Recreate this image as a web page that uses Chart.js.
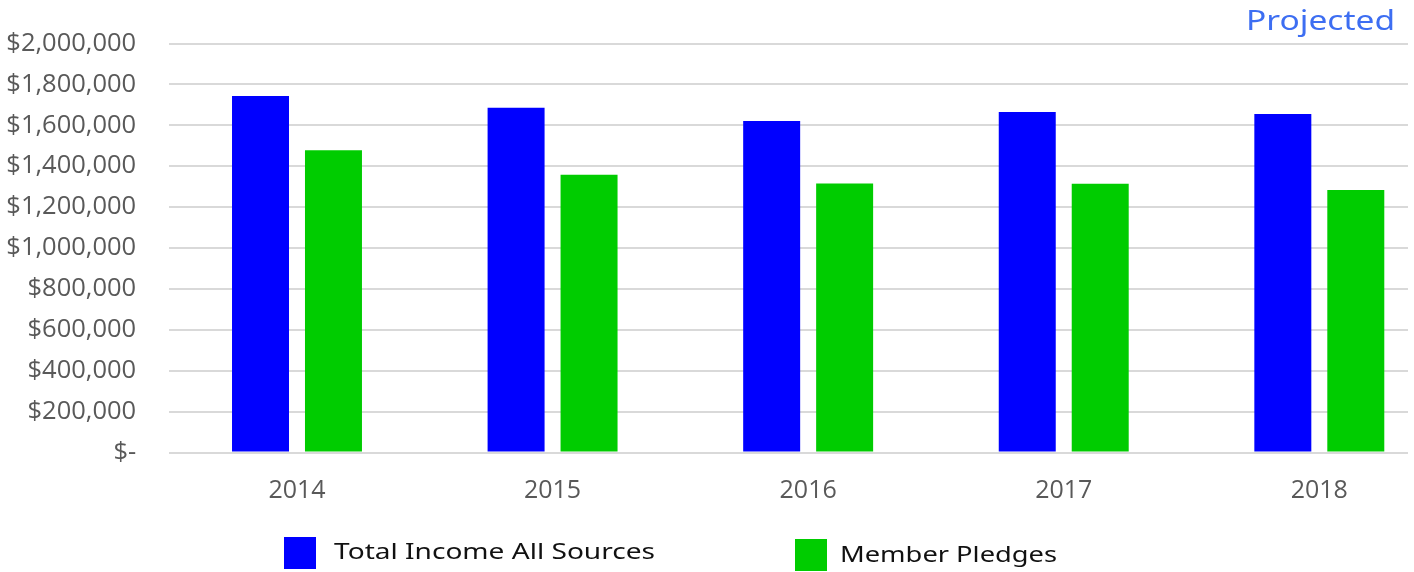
<!DOCTYPE html>
<html>
<head>
<meta charset="utf-8">
<script src="https://cdn.jsdelivr.net/npm/chart.js@4/dist/chart.umd.min.js"></script>
<style>
  html, body { margin: 0; padding: 0; background: #ffffff; overflow: hidden; }
  #wrap { position: relative; width: 1414px; height: 572px; }
</style>
</head>
<body>
<div id="wrap"><canvas id="c" width="1414" height="572"></canvas></div>
<script>
// ---- data ----
const years = ['2014', '2015', '2016', '2017', '2018'];
const totalIncome = [1743000, 1686000, 1621000, 1665000, 1655000];
const memberPledges = [1478000, 1358000, 1316000, 1314000, 1284000];
const seriesNames = ['Total Income All Sources', 'Member Pledges'];
const seriesColors = ['#0000ff', '#00cc00'];
const yTicks = [0, 200000, 400000, 600000, 800000, 1000000, 1200000, 1400000, 1600000, 1800000, 2000000];
const noteText = 'Projected';

const toPoints = arr => arr.map((v, i) => ({ x: i, y: v }));

// draw text stretched horizontally to a target ink width
function fitText(ctx, text, x, y, target, align) {
  const w = ctx.measureText(text).width;
  const sx = target / w;
  ctx.save();
  ctx.textAlign = 'left';
  const left = align === 'right' ? x - target : x;
  ctx.translate(left, y);
  ctx.scale(sx, 1);
  ctx.fillText(text, 0, 0);
  ctx.restore();
}

const extras = {
  id: 'extras',
  afterDraw(chart) {
    const ctx = chart.ctx;
    ctx.save();
    const items = [
      { box: [284, 537], text: [334, 558.5], width: 321 },
      { box: [795, 539], text: [840, 562], width: 217 }
    ];
    ctx.font = '400 21.5px "Noto Sans"';
    ctx.textBaseline = 'alphabetic';
    chart.data.datasets.forEach((ds, i) => {
      const it = items[i];
      ctx.fillStyle = ds.backgroundColor;
      ctx.fillRect(it.box[0], it.box[1], 32, 32);
      ctx.fillStyle = '#111111';
      fitText(ctx, ds.label, it.text[0], it.text[1], it.width, 'left');
    });
    ctx.font = '400 27px "Noto Sans"';
    ctx.fillStyle = '#3d6ef2';
    fitText(ctx, noteText, 1395, 29.5, 149, 'right');
    ctx.restore();
  }
};

new Chart(document.getElementById('c'), {
  type: 'bar',
  data: {
    datasets: [
      { label: seriesNames[0], data: toPoints(totalIncome), backgroundColor: seriesColors[0], borderWidth: 0 },
      { label: seriesNames[1], data: toPoints(memberPledges), backgroundColor: seriesColors[1], borderWidth: 0 }
    ]
  },
  options: {
    responsive: false,
    animation: false,
    devicePixelRatio: 1,
    categoryPercentage: 0.571,
    barPercentage: 0.781,
    layout: { padding: { top: 43.5, right: 6, bottom: 0, left: 0 } },
    plugins: { legend: { display: false }, tooltip: { enabled: false }, title: { display: false } },
    scales: {
      x: {
        type: 'linear',
        offset: false,
        min: -0.5,
        max: 4.347,
        grid: { display: false, offset: false },
        border: { display: false },
        afterFit(scale) { scale.height = 119.5; },
        ticks: {
          stepSize: 1,
          includeBounds: false,
          padding: 15,
          color: '#595959',
          font: { family: '"Open Sans"', size: 25 },
          callback: v => (Number.isInteger(v) && years[v] !== undefined) ? years[v] : ''
        }
      },
      y: {
        min: 0,
        max: 2000000,
        afterFit(scale) { scale.width = 169.2; },
        afterBuildTicks(scale) { scale.ticks = yTicks.map(v => ({ value: v })); },
        grid: { color: '#d9d9d9', lineWidth: 2, drawTicks: true, tickLength: 33, tickColor: 'rgba(0,0,0,0)' },
        border: { display: false },
        ticks: {
          padding: 0,
          color: '#595959',
          font: { family: '"Open Sans"', size: 25.5 },
          callback: v => v === 0 ? '$-' : '$' + v.toLocaleString('en-US')
        }
      }
    }
  },
  plugins: [extras]
});
</script>
</body>
</html>
